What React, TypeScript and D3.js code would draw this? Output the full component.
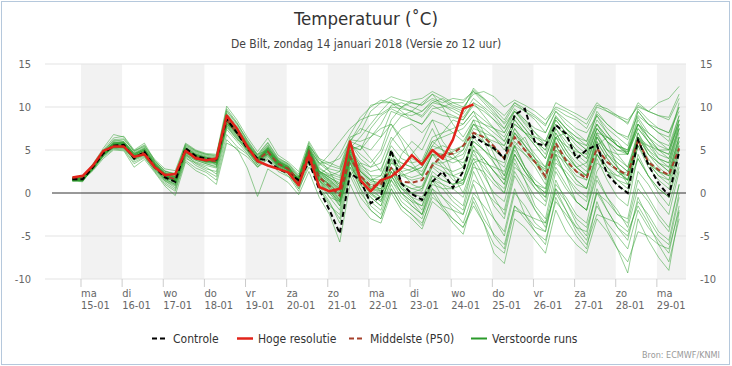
import React from 'react';
import * as d3 from 'd3';

const dayNames = ['ma', 'di', 'wo', 'do', 'vr', 'za', 'zo', 'ma', 'di', 'wo', 'do', 'vr', 'za', 'zo', 'ma'];
const dayDates = ['15-01', '16-01', '17-01', '18-01', '19-01', '20-01', '21-01', '22-01', '23-01', '24-01', '25-01', '26-01', '27-01', '28-01', '29-01'];
const yTicks = [-10, -5, 0, 5, 10, 15];

// forecast steps: 6-hourly, first step at 14-01 19:00 (hours relative to 15-01 00:00)
const firstStepHour = -5;
const stepHours = 6;

const controle = [
  1.6, 1.6, 3.0, 4.6, 5.5, 5.6, 4.0, 4.8, 3.0, 1.8, 1.3, 5.2, 4.3, 4.0, 3.9, 8.6, 7.0, 5.2, 4.0, 3.8,
  2.8, 2.3, 1.5, 3.6, 0.4, -2.0, -4.7, 2.3, 1.5, -1.2, -0.4, 5.0, 1.1, -0.1, -0.8, 1.3, 2.5, 0.6, 2.5, 6.6,
  5.8, 5.2, 4.0, 9.1, 9.8, 5.8, 5.5, 7.9, 6.9, 4.0, 5.0, 5.6, 2.2, 0.9, 0.0, 6.2, 3.3, 1.1, -0.3, 4.8,
];

const hogeResolutie = [
  1.8, 2.0, 3.2, 4.9, 5.4, 5.4, 4.2, 4.5, 3.0, 2.1, 2.2, 4.9, 4.0, 3.8, 4.0, 9.0, 7.5, 5.4, 3.7, 3.2,
  2.8, 2.4, 0.9, 4.4, 0.7, 0.2, 0.5, 6.0, 1.5, 0.2, 1.5, 1.9, 2.9, 4.4, 3.3, 5.0, 4.0, 6.2, 9.8, 10.3,
];

const middelste = [
  1.7, 1.7, 3.1, 4.7, 5.5, 5.5, 4.2, 4.7, 3.1, 2.0, 1.6, 4.9, 4.2, 3.8, 3.7, 8.5, 7.0, 5.4, 3.8, 4.8,
  3.4, 2.8, 1.4, 4.8, 1.8, 0.8, -0.3, 4.2, 2.0, 0.8, 1.0, 2.9, 1.3, 1.2, 1.5, 3.2, 4.4, 4.6, 5.5, 7.0,
  6.5, 5.4, 4.0, 6.5, 5.0, 3.6, 1.9, 5.8, 3.8, 2.5, 1.7, 5.2, 3.6, 2.7, 2.1, 6.2, 3.6, 2.7, 2.1, 5.2,
];

const verstoordeRuns: number[][] = [
  [1.5, 1.4, 2.8, 4.4, 5.8, 5.9, 4.5, 5.2, 3.5, 2.3, 1.8, 5.2, 4.5, 4.1, 3.9, 9.0, 7.6, 5.9, 4.1, 5.2, 3.7, 3.0,
    1.6, 5.0, 2.0, 1.0, 0.0, 4.8, 2.5, 1.2, 1.0, 4.0, 2.0, 1.5, 1.8, 4.5, 4.0, 3.5, 4.0, 7.0, 6.0, 5.0, 4.0, 7.5, 6.0, 4.5, 3.0, 7.0, 5.0, 3.5, 2.5, 6.5, 4.5, 3.5, 2.5, 7.0, 4.5, 3.5, 2.5, 6.5],
  [1.7, 1.7, 3.3, 4.9, 5.4, 5.2, 3.9, 4.5, 2.9, 1.7, 1.1, 4.6, 3.9, 3.5, 3.3, 8.0, 6.6, 5.0, 3.5, 4.5, 3.1, 2.5,
    1.0, 4.5, 1.5, 0.5, -0.8, 4.2, 1.8, 0.5, 0.2, 3.0, 1.0, 0.5, 0.8, 3.5, 3.0, 2.5, 3.0, 6.0, 5.0, 4.0, 3.0, 6.5, 5.0, 3.5, 2.0, 6.0, 4.0, 2.5, 1.5, 5.5, 3.5, 2.5, 1.5, 6.0, 3.5, 2.5, 1.5, 5.5],
  [1.4, 1.3, 3.1, 5.0, 6.4, 6.6, 5.0, 5.8, 3.8, 2.5, 2.3, 5.7, 4.9, 4.5, 4.4, 9.8, 8.2, 6.1, 4.4, 5.8, 4.0, 3.4,
    2.0, 5.8, 3.5, 2.8, 2.5, 6.0, 8.0, 10.2, 10.5, 11.2, 10.8, 10.5, 10.2, 11.5, 10.8, 10.0, 9.5, 12.2, 11.0, 9.8, 8.5, 10.5, 9.5, 8.5, 7.0, 9.5, 8.0, 7.0, 6.0, 9.0, 7.5, 6.5, 5.5, 9.5, 8.0, 7.0, 6.0, 10.5],
  [1.8, 1.9, 2.7, 4.2, 5.1, 5.0, 3.4, 4.1, 2.6, 1.2, 0.4, 4.0, 3.5, 3.0, 2.2, 7.4, 6.0, 4.6, 3.0, 4.0, 2.8, 2.0,
    0.2, 3.5, 0.5, -1.2, -3.0, 2.5, 0.0, -1.5, -2.5, 1.0, -1.0, -2.0, -3.0, 0.5, -0.5, -1.5, -2.5, 1.0, -2.0, -5.0, -6.5, -1.5, -3.0, -4.5, -5.5, -1.0, -2.5, -4.0, -5.5, -1.5, -3.5, -5.0, -6.5, -2.0, -4.0, -5.5, -7.0, -1.5],
  [1.6, 1.5, 3.0, 4.7, 5.9, 5.8, 4.6, 4.9, 3.3, 2.2, 1.7, 5.0, 4.4, 4.0, 3.8, 8.7, 7.2, 5.6, 3.9, 5.3, 3.6, 3.1,
    1.8, 5.2, 2.5, 1.5, 0.5, 5.5, 3.0, 2.0, 2.0, 5.0, 3.0, 2.5, 3.0, 5.5, 5.0, 4.5, 5.0, 7.5, 7.0, 6.5, 5.5, 8.0, 7.0, 6.0, 5.0, 8.5, 7.0, 6.0, 5.0, 8.0, 6.5, 5.5, 4.5, 8.5, 6.5, 5.0, 4.5, 8.5],
  [1.5, 1.6, 2.9, 4.5, 5.5, 5.7, 4.3, 4.7, 3.0, 1.8, 1.3, 4.8, 4.1, 3.7, 3.5, 8.3, 6.9, 5.2, 3.7, 4.9, 3.3, 2.7,
    1.3, 4.6, 1.6, 0.6, -0.6, 4.0, 1.5, 0.2, -0.5, 2.5, 0.5, 0.0, 0.5, 3.0, 2.0, 1.0, 1.5, 5.0, 4.0, 2.5, 1.0, 5.0, 3.0, 1.5, 0.5, 5.0, 3.0, 1.5, 0.5, 4.5, 2.5, 1.5, 1.0, 5.5, 3.5, 2.5, 2.0, 6.0],
  [1.7, 1.8, 3.4, 5.2, 6.8, 6.5, 4.8, 5.5, 3.9, 2.8, 2.6, 5.8, 5.0, 4.6, 4.5, 10.1, 8.5, 6.5, 4.8, 6.4, 4.4, 3.6,
    2.5, 6.0, 4.0, 3.5, 3.0, 6.5, 7.0, 9.5, 10.5, 10.5, 10.0, 10.8, 11.0, 11.8, 11.2, 10.5, 10.0, 11.5, 11.8, 11.2, 10.0, 10.8, 10.2, 9.5, 8.5, 10.0, 9.5, 8.8, 8.0, 10.2, 9.8, 9.0, 8.5, 10.0, 9.5, 10.5, 11.0, 12.4],
  [1.6, 1.5, 2.6, 4.0, 5.0, 4.9, 3.0, 3.9, 2.4, 0.8, -0.3, 3.6, 2.6, 2.0, 1.0, 5.8, 5.2, 2.9, -0.4, 2.8, 2.0, 1.2,
    -0.2, 2.5, -0.5, -2.5, -5.7, 1.0, -1.5, -3.0, -3.5, 0.0, -2.0, -3.0, -4.2, -1.0, -2.0, -3.0, -4.0, -1.5, -3.5, -7.0, -8.2, -3.0, -4.0, -5.5, -7.0, -2.0, -4.5, -6.0, -7.0, -3.0, -4.5, -6.5, -8.0, -4.5, -5.0, -6.0, -6.5, -2.0],
  [1.5, 1.7, 3.2, 4.8, 5.7, 5.4, 4.1, 4.6, 3.1, 1.9, 1.6, 5.1, 4.3, 3.9, 3.7, 8.6, 7.3, 5.5, 4.0, 5.0, 3.5, 2.9,
    1.5, 4.9, 2.2, 1.2, 0.2, 4.6, 2.2, 1.0, 0.8, 3.5, 2.5, 2.8, 3.5, 6.0, 6.5, 7.0, 7.5, 9.0, 8.0, 7.0, 6.0, 8.5, 7.0, 5.5, 4.0, 7.5, 5.5, 4.0, 3.0, 7.0, 5.0, 3.5, 2.5, 6.5, 4.5, 3.0, 2.0, 6.5],
  [1.6, 1.6, 3.1, 4.6, 5.3, 5.5, 4.4, 5.0, 3.4, 2.1, 1.4, 4.7, 4.0, 3.6, 3.4, 8.1, 6.7, 5.3, 3.6, 4.6, 3.2, 2.6,
    1.2, 4.7, 1.9, 0.9, -0.2, 4.5, 2.0, 0.5, 0.0, 2.5, 1.0, 0.0, -0.5, 2.0, 1.5, 1.0, 1.2, 4.0, 3.5, 3.0, 2.5, 5.5, 4.5, 3.5, 2.8, 6.5, 5.5, 4.8, 4.5, 7.5, 6.0, 5.0, 4.8, 8.0, 6.5, 5.5, 5.0, 8.5],
  [1.8, 1.7, 2.9, 4.3, 5.6, 5.8, 4.2, 4.4, 2.8, 1.5, 0.9, 4.4, 3.8, 3.4, 3.1, 7.8, 6.4, 4.9, 3.3, 4.4, 3.0, 2.4,
    0.8, 4.2, 1.2, 0.0, -1.2, 3.8, 1.2, 0.0, -0.8, 2.0, 0.5, -0.5, -1.0, 2.5, 1.5, 1.0, 1.5, 5.5, 4.0, 2.5, 1.5, 5.5, 3.0, 1.0, -0.5, 4.5, 2.0, 0.0, -1.0, 4.0, 1.5, -0.5, -1.5, 4.5, 2.0, 0.5, -0.5, 4.5],
  [1.4, 1.5, 3.0, 4.9, 6.1, 6.0, 4.7, 5.3, 3.6, 2.4, 2.0, 5.4, 4.7, 4.3, 4.1, 9.3, 7.8, 5.8, 4.2, 5.5, 3.8, 3.2,
    1.8, 5.5, 3.2, 4.5, 6.0, 7.5, 8.5, 9.0, 9.2, 10.0, 9.8, 9.5, 9.0, 10.5, 10.2, 9.8, 9.2, 11.0, 10.0, 9.0, 7.5, 9.8, 8.5, 7.0, 5.5, 8.5, 7.0, 5.5, 4.5, 8.0, 6.5, 5.5, 4.5, 7.5, 6.0, 5.0, 4.0, 8.0],
  [1.6, 1.8, 3.3, 4.7, 5.4, 5.3, 4.0, 4.7, 3.2, 2.0, 1.6, 4.9, 4.2, 3.9, 3.8, 8.5, 7.1, 5.4, 3.9, 5.1, 3.5, 2.8,
    1.6, 5.1, 2.4, 1.6, 0.8, 5.2, 3.5, 3.0, 3.5, 6.5, 5.0, 4.0, 3.5, 6.0, 5.0, 4.0, 4.5, 7.0, 6.5, 6.0, 5.5, 8.0, 7.0, 6.5, 6.0, 9.0, 7.5, 6.5, 6.0, 9.5, 8.0, 7.0, 6.5, 9.0, 8.0, 7.5, 7.0, 9.5],
  [1.7, 1.6, 2.8, 4.4, 5.2, 5.1, 3.6, 4.2, 2.7, 1.4, 0.6, 4.2, 3.2, 2.6, 1.9, 6.8, 5.4, 4.5, 3.1, 4.2, 2.9, 2.3,
    0.5, 3.8, 1.0, -0.5, -2.0, 3.5, 1.0, -0.5, -1.5, 2.5, 0.5, -0.8, -1.5, 2.0, 1.0, -0.5, -1.5, 3.5, 1.0, -1.5, -3.0, 2.0, 0.0, -2.0, -3.5, 1.5, -1.0, -3.5, -5.0, 0.5, -2.0, -4.0, -5.5, -0.5, -3.0, -5.0, -6.0, -0.5],
  [1.5, 1.4, 3.0, 4.6, 5.7, 5.9, 4.5, 5.1, 3.5, 2.2, 1.9, 5.3, 4.6, 4.2, 4.0, 9.2, 7.5, 5.7, 4.0, 5.0, 3.4, 2.6,
    1.2, 4.4, 1.0, 0.2, -1.0, 4.0, 2.5, 1.5, 2.0, 4.5, 3.5, 3.0, 2.5, 4.8, 4.5, 4.0, 3.5, 5.5, 3.5, 1.5, 0.0, 4.5, 2.5, 0.5, -1.0, 4.0, 2.0, 0.5, -0.5, 4.5, 3.0, 2.0, 1.5, 6.0, 4.0, 2.5, 2.0, 6.0],
  [1.6, 1.7, 3.1, 4.7, 5.5, 5.6, 4.1, 4.9, 3.3, 2.1, 1.7, 5.0, 4.3, 4.0, 3.9, 8.8, 7.3, 5.6, 4.0, 5.0, 3.6, 2.9,
    1.2, 4.8, 2.5, 1.8, 1.0, 5.2, 6.5, 8.0, 9.5, 10.8, 10.0, 9.5, 8.8, 10.2, 9.5, 9.0, 8.5, 10.5, 9.8, 8.5, 7.0, 9.0, 7.5, 6.0, 4.5, 8.0, 6.5, 5.0, 4.0, 7.5, 6.0, 4.5, 3.0, 7.0, 5.0, 3.5, 2.5, 6.5],
  [1.5, 1.5, 2.9, 4.5, 6.0, 6.2, 4.9, 5.6, 3.7, 2.6, 2.1, 5.5, 4.8, 4.4, 4.2, 9.5, 8.0, 6.0, 4.3, 5.6, 3.9, 3.3,
    1.9, 5.4, 2.6, 1.8, 1.0, 5.0, 3.2, 2.5, 2.8, 5.5, 4.0, 3.5, 3.8, 6.5, 7.0, 7.5, 8.0, 9.5, 8.5, 7.5, 6.5, 9.0, 7.5, 6.0, 5.0, 8.0, 6.5, 5.0, 4.0, 7.5, 6.0, 5.0, 4.5, 8.0, 6.0, 4.5, 4.0, 7.5],
  [1.7, 1.6, 3.0, 4.6, 5.2, 5.3, 3.8, 4.3, 2.5, 1.0, 0.2, 3.8, 2.9, 2.4, 1.5, 6.2, 5.0, 4.2, 3.0, 3.9, 2.5, 1.9,
    1.0, 4.2, 1.5, 0.2, -1.0, 4.0, 2.0, 0.5, -0.5, 3.0, 0.8, -0.5, -2.0, 1.5, -0.5, -2.0, -3.5, 0.0, -1.5, -3.0, -4.5, 0.5, -2.5, -4.5, -6.0, -0.5, -3.0, -5.0, -6.5, -1.0, -4.0, -6.5, -9.3, -3.0, -5.5, -7.5, -9.0, -2.2],
  [1.6, 1.6, 2.8, 4.3, 5.4, 5.5, 4.2, 4.6, 3.1, 1.9, 1.5, 4.8, 4.1, 3.7, 3.6, 8.2, 6.9, 5.3, 3.7, 4.7, 3.3, 2.7,
    1.1, 4.3, 1.4, 0.4, -0.9, 3.6, 1.0, -0.5, -1.5, 1.5, 0.0, -1.0, -1.5, 1.5, 0.5, 0.5, 1.0, 4.5, 3.0, 1.5, 0.5, 4.5, 2.5, 1.0, 0.0, 5.5, 3.5, 2.0, 1.5, 6.0, 4.0, 2.5, 2.0, 6.5, 4.5, 3.5, 3.0, 7.0],
  [1.4, 1.5, 3.2, 4.9, 5.8, 5.7, 4.4, 5.0, 3.4, 2.2, 1.8, 5.1, 4.4, 4.0, 3.9, 8.9, 7.4, 5.6, 4.0, 5.2, 3.7, 3.0,
    1.6, 5.2, 3.0, 2.0, 1.5, 5.8, 4.5, 3.5, 5.0, 8.5, 10.0, 10.5, 10.2, 11.0, 10.5, 11.0, 10.8, 11.8, 11.0, 10.0, 9.0, 10.5, 9.8, 9.0, 8.0, 9.8, 9.0, 8.5, 7.5, 10.0, 9.5, 9.0, 8.0, 10.5, 9.5, 9.0, 8.5, 11.0],
  [1.8, 1.9, 3.3, 4.8, 5.5, 5.4, 4.2, 4.7, 3.0, 1.8, 1.4, 4.8, 4.1, 3.7, 3.6, 8.3, 6.9, 5.3, 3.8, 4.9, 3.4, 2.8,
    1.7, 5.0, 2.3, 1.4, 0.4, 5.0, 2.8, 1.6, 1.5, 4.5, 2.5, 1.0, 0.5, 3.5, 3.5, 4.0, 5.0, 8.0, 7.5, 6.5, 5.0, 7.5, 5.5, 3.5, 1.5, 5.5, 3.5, 1.5, 0.5, 5.0, 3.0, 1.5, 0.5, 5.5, 3.0, 1.5, 0.5, 5.0],
  [1.6, 1.5, 2.7, 4.3, 5.3, 5.2, 3.9, 4.4, 2.8, 1.4, 0.8, 4.3, 3.6, 3.2, 2.9, 7.6, 6.3, 4.8, 3.3, 4.3, 3.0, 2.3,
    0.8, 4.0, 0.8, -1.0, -3.5, 2.0, -0.5, -2.0, -3.0, 0.5, -1.5, -2.5, -3.8, 0.0, -1.8, -3.5, -4.8, -0.5, -3.0, -4.8, -6.0, -1.5, -2.5, -4.0, -4.5, 0.5, -1.0, -3.0, -4.0, 0.0, -2.0, -4.0, -5.0, -1.0, -2.5, -4.5, -5.5, 0.0],
  [1.5, 1.6, 3.1, 4.7, 5.7, 5.8, 4.4, 5.0, 3.4, 2.3, 1.9, 5.2, 4.5, 4.1, 4.0, 9.0, 7.5, 5.7, 4.1, 5.3, 3.7, 3.1,
    1.4, 4.8, 1.8, 1.1, 0.0, 4.4, 2.0, 0.8, 0.5, 3.0, 2.0, 2.5, 3.0, 5.0, 5.5, 5.0, 5.5, 8.5, 8.0, 7.5, 7.0, 9.5, 8.5, 7.5, 7.0, 9.5, 8.5, 7.5, 7.0, 9.0, 7.0, 5.5, 5.0, 9.5, 8.0, 7.0, 6.5, 10.0],
  [1.7, 1.7, 3.0, 4.6, 5.6, 5.5, 4.2, 4.8, 3.2, 2.0, 1.5, 4.9, 4.2, 3.8, 3.7, 8.5, 7.0, 5.4, 3.9, 4.9, 3.5, 2.8,
    1.0, 4.5, 2.2, 3.0, 4.5, 6.8, 8.8, 10.0, 10.8, 10.5, 9.5, 8.5, 8.0, 9.5, 9.0, 8.8, 8.5, 10.2, 9.5, 8.5, 7.5, 9.5, 8.0, 6.5, 5.5, 8.8, 7.5, 6.0, 5.0, 8.5, 7.0, 5.5, 4.8, 8.8, 7.0, 6.0, 5.0, 9.0],
  [1.6, 1.6, 3.0, 4.5, 5.5, 5.6, 4.3, 4.8, 3.1, 1.9, 1.4, 4.8, 4.1, 3.7, 3.6, 8.3, 6.9, 5.3, 3.8, 4.8, 3.4, 2.7,
    1.3, 4.7, 1.7, 0.8, -0.4, 4.3, 1.8, 0.6, 0.3, 3.0, 1.2, 0.5, 0.2, 3.2, 2.5, 2.0, 2.5, 6.0, 5.0, 4.0, 3.5, 7.0, 5.5, 4.0, 3.0, 7.0, 5.0, 3.0, 2.0, 6.5, 4.5, 3.0, 2.0, 6.0, 3.5, 2.0, 1.5, 5.5],
  [1.5, 1.4, 2.8, 4.4, 5.4, 5.3, 4.0, 4.5, 2.9, 1.6, 1.0, 4.5, 3.8, 3.4, 3.0, 7.9, 6.5, 5.0, 3.5, 4.5, 3.1, 2.5,
    1.2, 4.5, 1.8, 0.5, -1.5, 3.0, 1.5, -0.2, -1.0, 2.0, 0.0, -1.0, -2.5, 1.0, 0.5, -1.0, -2.0, 2.5, 0.0, -3.0, -5.0, 0.0, -1.5, -3.5, -4.5, 1.0, -0.5, -2.5, -3.5, 1.5, -0.5, -2.0, -4.0, 0.5, -1.0, -3.0, -4.5, 1.0],
  [1.6, 1.7, 3.2, 4.8, 6.2, 6.3, 4.9, 5.4, 3.7, 2.5, 2.2, 5.6, 4.9, 4.5, 4.3, 9.6, 8.1, 6.2, 4.5, 5.9, 4.1, 3.4,
    2.2, 5.5, 3.8, 3.2, 2.8, 6.2, 6.0, 6.5, 8.0, 10.2, 10.5, 10.0, 9.5, 10.8, 10.2, 9.5, 8.8, 10.5, 9.0, 7.5, 6.0, 8.5, 7.0, 5.5, 4.0, 7.5, 6.0, 4.5, 3.5, 6.8, 5.0, 4.0, 3.0, 6.5, 5.0, 4.0, 3.5, 7.5],
  [1.7, 1.8, 3.1, 4.7, 5.6, 5.6, 4.3, 4.8, 3.2, 2.0, 1.6, 4.9, 4.2, 3.8, 3.7, 8.4, 7.0, 5.4, 3.8, 4.9, 3.5, 2.8,
    1.5, 5.0, 2.1, 1.3, 0.3, 4.8, 2.6, 1.4, 1.2, 3.8, 2.2, 1.8, 2.2, 4.5, 4.5, 4.8, 5.5, 8.0, 7.0, 5.5, 4.0, 7.0, 5.5, 4.0, 2.5, 6.5, 4.5, 3.0, 2.0, 6.0, 4.0, 2.5, 1.5, 6.0, 3.5, 2.0, 1.0, 5.0],
  [1.5, 1.5, 3.0, 4.6, 5.8, 6.0, 4.6, 5.2, 3.5, 2.3, 1.9, 5.2, 4.5, 4.1, 3.9, 8.9, 7.4, 5.6, 4.0, 5.4, 3.8, 3.1,
    1.4, 5.0, 2.8, 2.2, 1.8, 5.5, 5.0, 7.5, 9.0, 9.8, 9.2, 9.0, 9.5, 10.5, 11.0, 10.2, 9.8, 11.8, 10.5, 9.2, 8.2, 10.2, 9.5, 8.8, 7.8, 10.5, 9.8, 9.2, 8.5, 10.5, 9.5, 8.8, 8.2, 10.2, 9.5, 9.0, 8.8, 11.5],
  [1.6, 1.6, 2.9, 4.5, 5.4, 5.4, 4.1, 4.6, 3.0, 1.8, 1.3, 4.7, 4.0, 3.6, 3.5, 8.1, 6.8, 5.2, 3.7, 4.7, 3.3, 2.6,
    1.7, 5.3, 3.4, 2.5, 2.0, 6.0, 5.5, 5.0, 6.5, 9.5, 9.0, 8.5, 8.0, 9.8, 10.0, 10.5, 10.5, 12.0, 10.8, 9.5, 8.0, 9.5, 8.2, 7.0, 6.0, 8.8, 7.5, 6.5, 5.5, 9.2, 8.0, 7.0, 6.2, 9.8, 8.5, 7.5, 7.0, 10.0],
  [1.6, 1.5, 3.0, 4.6, 5.6, 5.7, 4.4, 4.6, 3.0, 1.6, 1.0, 4.5, 3.4, 2.8, 2.5, 7.8, 6.2, 5.5, 4.5, 5.0, 3.0, 2.2,
    0.5, 3.0, 1.5, -0.5, -1.0, 2.0, 3.5, 2.0, 0.0, 1.5, 4.5, 6.0, 5.0, 7.5, 5.0, 2.0, 0.0, 3.5, 4.0, 2.5, 1.0, 5.5, 6.5, 4.0, 2.0, 4.5, 2.0, -1.0, -2.0, 2.5, 4.5, 3.0, 1.0, 4.0, 2.0, 0.0, -1.5, 3.0],
  [1.7, 1.6, 3.2, 4.8, 5.6, 5.3, 4.0, 4.9, 3.3, 2.0, 1.4, 4.6, 4.4, 4.2, 3.2, 8.0, 7.2, 5.0, 3.5, 5.2, 3.8, 2.5,
    1.8, 5.5, 4.0, 2.5, 0.5, 5.0, 5.5, 4.0, 2.5, 6.0, 7.5, 8.0, 7.0, 8.5, 6.0, 4.5, 3.0, 6.5, 5.0, 3.5, 2.0, 6.0, 4.5, 3.0, 1.0, 6.5, 7.0, 6.0, 5.5, 8.0, 6.0, 3.0, 1.5, 6.5, 5.5, 4.0, 3.0, 7.5],
  [1.5, 1.6, 2.9, 4.5, 5.7, 5.8, 4.3, 4.7, 3.1, 2.1, 1.5, 5.0, 4.0, 3.6, 3.8, 8.6, 6.9, 5.3, 3.6, 4.6, 3.2, 2.7,
    1.0, 4.0, 0.5, -1.5, -2.5, 3.0, 0.5, -1.0, -2.0, 1.5, -0.5, -1.5, -2.5, 1.5, 1.0, 0.5, -0.5, 3.0, 2.5, 1.0, 0.0, 4.0, 1.5, -1.5, -3.0, 2.5, 0.5, -1.0, -2.0, 2.0, -0.5, -2.5, -3.0, 2.5, 1.0, -1.0, -2.5, 2.5],
  [1.6, 1.7, 3.1, 4.7, 5.3, 5.4, 4.2, 4.5, 3.2, 1.9, 1.7, 4.8, 4.2, 3.9, 3.5, 8.4, 7.0, 5.5, 3.8, 4.5, 3.3, 2.9,
    1.5, 5.0, 2.5, 1.8, 1.2, 5.5, 5.0, 6.5, 7.5, 8.0, 6.5, 5.0, 3.5, 5.5, 7.0, 8.5, 8.0, 9.5, 7.0, 4.5, 2.0, 5.5, 3.0, 1.0, 0.0, 4.5, 3.5, 2.5, 2.0, 5.5, 6.5, 6.0, 4.5, 7.5, 6.0, 4.0, 3.5, 8.0],
  [1.5, 1.5, 3.0, 4.8, 5.9, 5.9, 4.6, 5.1, 3.3, 2.2, 1.8, 5.0, 4.3, 3.8, 3.7, 8.7, 7.2, 5.3, 3.9, 5.1, 3.6, 3.0,
    1.2, 4.6, 1.5, 0.0, -1.5, 3.5, 0.5, -2.0, -3.0, 0.5, -1.5, -2.5, -3.5, -0.5, -1.5, -2.0, -2.5, 1.5, 0.5, -1.0, -2.0, 3.0, 2.0, 0.5, -0.5, 3.5, 2.5, 1.0, 0.5, 4.5, 2.5, 1.0, 0.0, 4.0, 2.0, 0.5, -0.5, 3.5],
  [1.7, 1.8, 3.2, 4.6, 5.5, 5.6, 4.2, 4.7, 3.0, 1.9, 1.6, 4.9, 4.1, 3.8, 3.8, 8.4, 6.9, 5.3, 3.8, 4.9, 3.4, 2.8,
    1.6, 5.0, 3.5, 3.5, 4.0, 6.0, 7.5, 7.0, 6.5, 8.0, 6.0, 3.5, 2.0, 4.5, 3.0, 1.5, 1.0, 4.0, 2.0, 0.0, -1.0, 3.5, 1.5, -0.5, -1.5, 3.0, 1.0, -1.0, -2.0, 3.5, 2.5, 2.0, 2.5, 6.0, 5.5, 5.0, 5.0, 8.0],
  [1.6, 1.6, 3.0, 4.7, 5.6, 5.5, 4.1, 4.8, 3.2, 2.0, 1.5, 4.9, 4.2, 3.8, 3.6, 8.5, 7.0, 5.4, 3.8, 4.8, 3.5, 2.8,
    1.3, 4.7, 2.0, 1.0, -0.2, 4.6, 2.0, 0.7, 0.5, 3.5, 3.0, 4.5, 6.0, 8.5, 8.0, 7.0, 6.0, 8.0, 6.5, 5.0, 4.0, 7.0, 5.0, 3.5, 2.5, 6.5, 4.5, 3.0, 2.0, 6.5, 5.0, 4.5, 4.5, 8.0, 7.0, 6.0, 5.5, 9.0],
  [1.4, 1.4, 2.9, 4.6, 5.7, 5.8, 4.4, 5.0, 3.3, 2.1, 1.6, 5.0, 4.3, 3.9, 3.8, 8.6, 7.1, 5.5, 3.9, 5.0, 3.5, 2.9,
    1.4, 4.9, 2.0, 0.8, -0.8, 4.0, 1.5, 0.0, -1.0, 2.0, 0.0, -1.5, -2.5, 0.5, -1.5, -3.0, -4.0, -1.0, -3.5, -6.0, -7.0, -2.0, -2.5, -3.0, -3.5, 0.0, -2.0, -4.5, -6.0, -2.5, -3.0, -3.5, -4.5, -1.5, -3.5, -6.0, -8.0, -3.0],
  [1.6, 1.7, 3.1, 4.6, 5.5, 5.6, 4.3, 4.6, 3.1, 1.9, 1.4, 4.8, 4.1, 3.7, 3.6, 8.3, 6.9, 5.2, 3.7, 4.8, 3.4, 2.7,
    1.3, 4.6, 2.5, 2.0, 2.5, 5.8, 4.0, 3.0, 4.5, 7.5, 9.0, 9.5, 10.5, 11.5, 10.0, 8.0, 6.5, 8.5, 6.0, 3.5, 1.5, 4.5, 2.5, 1.0, 0.5, 5.0, 4.0, 3.0, 3.5, 7.0, 6.5, 5.5, 5.0, 8.0, 6.5, 5.0, 4.5, 8.5],
  [1.5, 1.6, 3.0, 4.5, 5.4, 5.5, 4.2, 4.8, 3.2, 2.0, 1.5, 4.9, 4.2, 3.8, 3.7, 8.4, 7.0, 5.3, 3.8, 4.9, 3.4, 2.8,
    1.6, 5.0, 2.3, 1.5, 0.5, 5.0, 2.5, 1.5, 1.0, 4.0, 3.5, 3.0, 2.0, 4.5, 3.5, 2.0, 1.5, 5.0, 2.5, -0.5, -2.5, 2.5, 0.5, -2.0, -4.0, 0.5, -2.0, -4.0, -4.5, 0.0, -1.0, -2.5, -3.5, 1.5, -0.5, -2.5, -4.0, 1.0],
];

const legendItems = [
  { label: 'Controle', color: '#000000', dash: '5,3', width: 2 },
  { label: 'Hoge resolutie', color: '#e2231a', dash: null, width: 2.5 },
  { label: 'Middelste (P50)', color: '#a6402b', dash: '5,3', width: 2 },
  { label: 'Verstoorde runs', color: '#2a9a2a', dash: null, width: 2 },
];
const legendX = [152, 237, 349, 471];

const font = "'DejaVu Sans Condensed', 'DejaVu Sans', sans-serif";
const W = 732;
const H = 366;
const plot = { left: 45, right: 686, top: 64, bottom: 279 };

const App: React.FC = () => {
  // hours after 15-01 00:00 (local time)
  const x = d3.scaleLinear().domain([-21, 353]).range([plot.left, plot.right]);
  const y = d3.scaleLinear().domain([-10, 15]).range([plot.bottom, plot.top]);

  const stepHour = (k: number) => firstStepHour + stepHours * k;
  const line = d3.line<number>()
    .x((_, k) => x(stepHour(k)))
    .y(v => y(v));

  const dayHours = dayNames.map((_, i) => i * 24);
  const maxHour = x.domain()[1];

  return (
    <svg width={W} height={H} style={{ position: 'fixed', left: 0, top: 0, display: 'block', background: '#fff' }}
      fontFamily={font} fontStretch="condensed">
      <rect x={1.5} y={1.5} width={W - 4} height={H - 3} fill="#fff" stroke="#b5c8dc" />

      <text x={W / 2} y={25} textAnchor="middle" fontSize={18.5} fill="#333">Temperatuur (˚C)</text>
      <text x={W / 2} y={48} textAnchor="middle" fontSize={12} fill="#444">De Bilt, zondag 14 januari 2018 (Versie zo 12 uur)</text>

      {/* alternating day bands */}
      {dayHours.filter((_, i) => i % 2 === 0).map(h => (
        <rect key={'b' + h} x={x(h)} y={plot.top} width={x(Math.min(h + 24, maxHour)) - x(h)}
          height={plot.bottom - plot.top} fill="#f2f2f2" />
      ))}

      {/* grid */}
      {yTicks.filter(t => t !== 0).map(t => (
        <line key={'g' + t} x1={plot.left} x2={plot.right} y1={y(t)} y2={y(t)} stroke="#e3e3e3" />
      ))}
      <line x1={plot.left + 7} x2={plot.right} y1={y(0)} y2={y(0)} stroke="#333" strokeWidth={1} />

      {/* y labels both sides */}
      {yTicks.map(t => (
        <g key={'yl' + t} fontSize={11} fill="#666">
          <text x={31} y={y(t)} dy="0.35em" textAnchor="end">{t}</text>
          <text x={700} y={y(t)} dy="0.35em" textAnchor="start">{t}</text>
        </g>
      ))}

      {/* x ticks and labels */}
      {dayHours.map((h, i) => (
        <g key={'x' + i} transform={`translate(${x(h)},0)`}>
          <line y1={plot.bottom} y2={plot.bottom + 8} stroke="#ccc" />
          <text x={0} y={297} fontSize={11} fill="#666">{dayNames[i]}</text>
          <text x={0} y={309} fontSize={11} fill="#666">{dayDates[i]}</text>
        </g>
      ))}

      {/* plume */}
      <g fill="none">
        {verstoordeRuns.map((run, i) => (
          <path key={'r' + i} d={line(run) ?? ''} stroke="#30a030" strokeOpacity={0.5} strokeWidth={1} />
        ))}
        <path d={line(middelste) ?? ''} stroke="#a6402b" strokeWidth={2} strokeDasharray="5,3" />
        <path d={line(controle) ?? ''} stroke="#000" strokeWidth={2} strokeDasharray="5,3" />
        <path d={line(hogeResolutie) ?? ''} stroke="#e2231a" strokeWidth={2.5} strokeLinejoin="round" />
      </g>

      {/* legend */}
      {legendItems.map((item, i) => (
        <g key={item.label} transform={`translate(${legendX[i]},338.5)`}>
          <line x1={0} x2={16} y1={0} y2={0} stroke={item.color} strokeWidth={item.width}
            strokeDasharray={item.dash ?? undefined} />
          <text x={21} y={4.3} fontSize={12} fill="#333">{item.label}</text>
        </g>
      ))}

      <text x={720} y={358} textAnchor="end" fontSize={9} fill="#999">Bron: ECMWF/KNMI</text>
    </svg>
  );
};

export default App;
